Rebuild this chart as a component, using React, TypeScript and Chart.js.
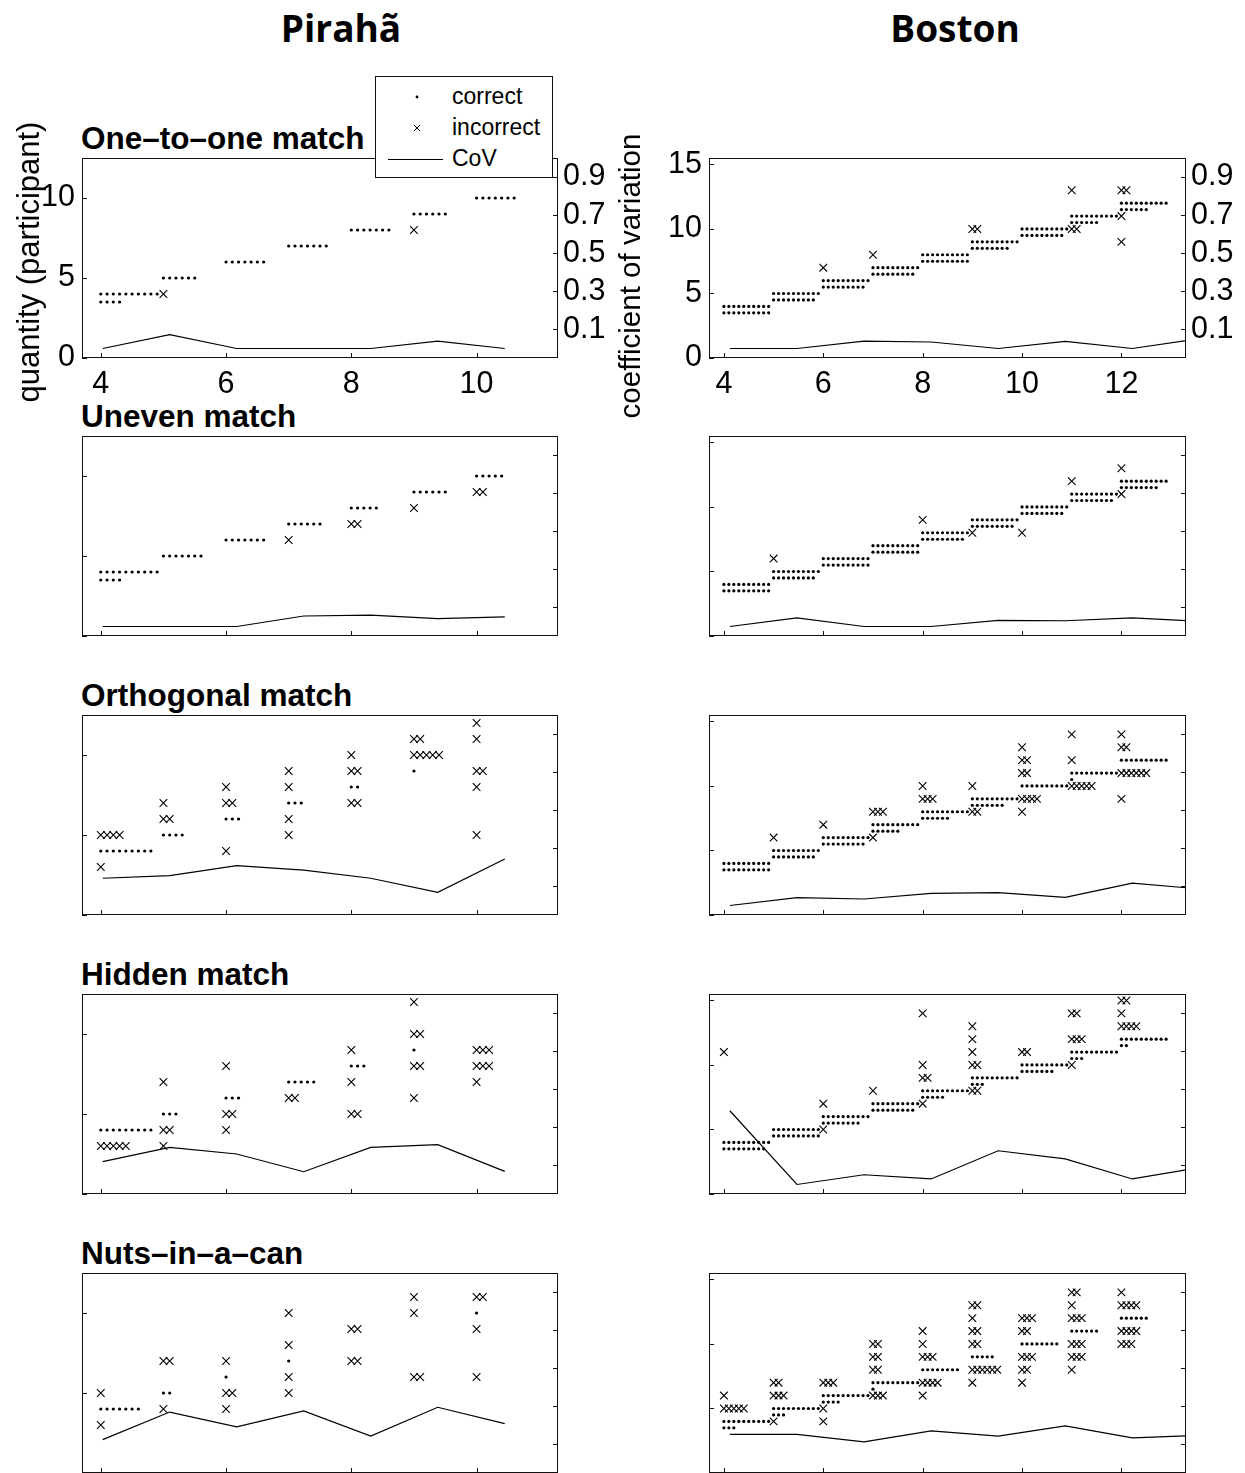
import React, { useEffect, useRef } from "react";
import { Chart, registerables } from "chart.js";

Chart.register(...registerables);

// Row = [target quantity, plotted response, first trial column, number of trials]
type Row = [number, number, number, number];

// ---------- axis ticks ----------
const PIRAHA_X_TICKS = [4, 6, 8, 10];
const BOSTON_X_TICKS = [4, 6, 8, 10, 12];
const PIRAHA_Y_TICKS = [0, 5, 10];
const BOSTON_Y_TICKS = [0, 5, 10, 15];
const COV_TICKS = [0.1, 0.3, 0.5, 0.7, 0.9];

// ---------- x positions of the CoV polyline vertices ----------
const PIRAHA_COV_X = [4.03, 5.1, 6.17, 7.24, 8.31, 9.38, 10.45];
const BOSTON_COV_X = [4.12, 5.47, 6.82, 8.17, 9.52, 10.87, 12.22, 13.57, 14.92];

// horizontal spacing between successive trials of one quantity
const TRIAL_STEP = 0.1;

// ---------- One-to-one match ----------
const PIRAHA_ONE_CORRECT: Row[] = [[4, 4, 0, 10], [4, 3.5, 0, 4], [5, 5, 0, 6], [6, 6, 0, 7], [7, 7, 0, 7], [8, 8, 0, 7], [9, 9, 0, 6], [10, 10, 0, 7]];
const PIRAHA_ONE_INCORRECT: Row[] = [[5, 4, 0, 1], [9, 8, 0, 1]];
const PIRAHA_ONE_COV = [0, 0.073, 0, 0, 0, 0.039, 0];

const BOSTON_ONE_CORRECT: Row[] = [[4, 4, 0, 10], [4, 3.5, 0, 10], [5, 5, 0, 10], [5, 4.5, 0, 9], [6, 6, 0, 10], [6, 5.5, 0, 9], [7, 7, 0, 10], [7, 6.5, 0, 9], [8, 8, 0, 10], [8, 7.5, 0, 10], [9, 9, 0, 10], [9, 8.5, 0, 8], [10, 10, 0, 10], [10, 9.5, 0, 9], [11, 11, 0, 10], [11, 10.5, 0, 6], [12, 12, 0, 10], [12, 11.5, 0, 6]];
const BOSTON_ONE_INCORRECT: Row[] = [[6, 7, 0, 1], [7, 8, 0, 1], [9, 10, 0, 2], [11, 13, 0, 1], [11, 10, 0, 2], [12, 13, 0, 2], [12, 11, 0, 1], [12, 9, 0, 1]];
const BOSTON_ONE_COV = [0, 0, 0.039, 0.034, 0, 0.037, 0, 0.051, 0.03];

// ---------- Uneven match ----------
const PIRAHA_UNEVEN_CORRECT: Row[] = [[4, 4, 0, 10], [4, 3.5, 0, 4], [5, 5, 0, 7], [6, 6, 0, 7], [7, 7, 0, 6], [8, 8, 0, 5], [9, 9, 0, 6], [10, 10, 0, 5]];
const PIRAHA_UNEVEN_INCORRECT: Row[] = [[7, 6, 0, 1], [8, 7, 0, 2], [9, 8, 0, 1], [10, 9, 0, 2]];
const PIRAHA_UNEVEN_COV = [0, 0, 0, 0.055, 0.06, 0.041, 0.05];

const BOSTON_UNEVEN_CORRECT: Row[] = [[4, 4, 0, 10], [4, 3.5, 0, 10], [5, 5, 0, 10], [5, 4.5, 0, 9], [6, 6, 0, 10], [6, 5.5, 0, 10], [7, 7, 0, 10], [7, 6.5, 0, 10], [8, 8, 0, 10], [8, 7.5, 0, 9], [9, 9, 0, 10], [9, 8.5, 0, 9], [10, 10, 0, 10], [10, 9.5, 0, 9], [11, 11, 0, 10], [11, 10.5, 0, 9], [12, 12, 0, 10], [12, 11.5, 0, 8]];
const BOSTON_UNEVEN_INCORRECT: Row[] = [[5, 6, 0, 1], [8, 9, 0, 1], [9, 8, 0, 1], [10, 8, 0, 1], [11, 12, 0, 1], [12, 13, 0, 1], [12, 11, 0, 1]];
const BOSTON_UNEVEN_COV = [0, 0.045, 0, 0, 0.032, 0.03, 0.045, 0.027, 0.03];

// ---------- Orthogonal match ----------
const PIRAHA_ORTHO_CORRECT: Row[] = [[4, 4, 0, 9], [5, 5, 0, 4], [6, 6, 0, 3], [7, 7, 0, 3], [8, 8, 0, 2], [9, 9, 0, 1]];
const PIRAHA_ORTHO_INCORRECT: Row[] = [[4, 5, 0, 4], [4, 3, 0, 1], [5, 7, 0, 1], [5, 6, 0, 2], [6, 8, 0, 1], [6, 7, 0, 2], [6, 4, 0, 1], [7, 9, 0, 1], [7, 8, 0, 1], [7, 6, 0, 1], [7, 5, 0, 1], [8, 10, 0, 1], [8, 9, 0, 2], [8, 7, 0, 2], [9, 11, 0, 2], [9, 10, 0, 5], [10, 12, 0, 1], [10, 11, 0, 1], [10, 9, 0, 2], [10, 8, 0, 1], [10, 5, 0, 1]];
const PIRAHA_ORTHO_COV = [0.143, 0.157, 0.209, 0.186, 0.143, 0.069, 0.244];

const BOSTON_ORTHO_CORRECT: Row[] = [[4, 4, 0, 10], [4, 3.5, 0, 10], [5, 5, 0, 10], [5, 4.5, 0, 9], [6, 6, 0, 10], [6, 5.5, 0, 9], [7, 7, 0, 10], [7, 6.5, 0, 6], [8, 8, 0, 10], [8, 7.5, 0, 6], [9, 9, 0, 10], [9, 8.5, 0, 7], [10, 10, 0, 10], [11, 11, 0, 10], [11, 10.5, 0, 1], [12, 12, 0, 10]];
const BOSTON_ORTHO_INCORRECT: Row[] = [[5, 6, 0, 1], [6, 7, 0, 1], [7, 8, 0, 3], [7, 6, 0, 1], [8, 10, 0, 1], [8, 9, 0, 3], [9, 10, 0, 1], [9, 8, 0, 2], [10, 13, 0, 1], [10, 12, 0, 2], [10, 11, 0, 2], [10, 9, 0, 4], [10, 8, 0, 1], [11, 14, 0, 1], [11, 12, 0, 1], [11, 10, 0, 5], [12, 14, 0, 1], [12, 13, 0, 2], [12, 11, 0, 6], [12, 9, 0, 1]];
const BOSTON_ORTHO_COV = [0, 0.041, 0.034, 0.064, 0.067, 0.043, 0.117, 0.087, 0.08];

// ---------- Hidden match ----------
const PIRAHA_HIDDEN_CORRECT: Row[] = [[4, 4, 0, 9], [5, 5, 0, 3], [6, 6, 0, 3], [7, 7, 0, 5], [8, 8, 0, 3], [9, 9, 0, 1]];
const PIRAHA_HIDDEN_INCORRECT: Row[] = [[4, 3, 0, 5], [5, 7, 0, 1], [5, 4, 0, 2], [5, 3, 0, 1], [6, 8, 0, 1], [6, 5, 0, 2], [6, 4, 0, 1], [7, 6, 0, 2], [8, 9, 0, 1], [8, 7, 0, 1], [8, 5, 0, 2], [9, 12, 0, 1], [9, 10, 0, 2], [9, 8, 0, 2], [9, 6, 0, 1], [10, 9, 0, 3], [10, 8, 0, 3], [10, 7, 0, 1]];
const PIRAHA_HIDDEN_COV = [0.12, 0.195, 0.16, 0.067, 0.195, 0.209, 0.069];

const BOSTON_HIDDEN_CORRECT: Row[] = [[4, 4, 0, 10], [4, 3.5, 0, 9], [5, 5, 0, 10], [5, 4.5, 0, 10], [6, 6, 0, 10], [6, 5.5, 0, 8], [7, 7, 0, 10], [7, 6.5, 0, 9], [8, 8, 0, 10], [8, 7.5, 0, 5], [9, 9, 0, 10], [9, 8.5, 0, 3], [10, 10, 0, 10], [10, 9.5, 0, 7], [11, 11, 0, 10], [11, 10.5, 0, 3], [12, 12, 0, 10], [12, 11.5, 0, 2]];
const BOSTON_HIDDEN_INCORRECT: Row[] = [[4, 11, 0, 1], [6, 7, 0, 1], [6, 5, 0, 1], [7, 8, 0, 1], [8, 14, 0, 1], [8, 10, 0, 1], [8, 9, 0, 2], [8, 7, 0, 1], [9, 13, 0, 1], [9, 12, 0, 1], [9, 11, 0, 1], [9, 10, 0, 2], [9, 8, 0, 2], [10, 11, 0, 2], [11, 14, 0, 2], [11, 12, 0, 3], [11, 10, 0, 1], [12, 15, 0, 2], [12, 14, 0, 1], [12, 13, 0, 4]];
const BOSTON_HIDDEN_COV = [0.387, 0, 0.051, 0.029, 0.177, 0.134, 0.029, 0.088, 0.06];

// ---------- Nuts-in-a-can ----------
const PIRAHA_NUTS_CORRECT: Row[] = [[4, 4, 0, 7], [5, 5, 0, 2], [6, 6, 0, 1], [7, 7, 0, 1], [10, 10, 0, 1]];
const PIRAHA_NUTS_INCORRECT: Row[] = [[4, 5, 0, 1], [4, 3, 0, 1], [5, 7, 0, 2], [5, 4, 0, 1], [6, 7, 0, 1], [6, 5, 0, 2], [6, 4, 0, 1], [7, 10, 0, 1], [7, 8, 0, 1], [7, 6, 0, 1], [7, 5, 0, 1], [8, 9, 0, 2], [8, 7, 0, 2], [9, 11, 0, 1], [9, 10, 0, 1], [9, 6, 0, 2], [10, 11, 0, 2], [10, 9, 0, 1], [10, 6, 0, 1]];
const PIRAHA_NUTS_COV = [0.125, 0.27, 0.192, 0.276, 0.144, 0.295, 0.209];

const BOSTON_NUTS_CORRECT: Row[] = [[4, 4, 0, 10], [4, 3.5, 0, 3], [5, 5, 0, 10], [5, 4.5, 0, 3], [6, 6, 0, 10], [6, 5.5, 0, 4], [7, 7, 0, 10], [7, 6.5, 0, 1], [8, 8, 0, 8], [9, 9, 0, 5], [10, 10, 0, 8], [11, 11, 0, 6], [12, 12, 0, 6]];
const BOSTON_NUTS_INCORRECT: Row[] = [[4, 6, 0, 1], [4, 5, 0, 5], [5, 7, 0, 2], [5, 6, 0, 3], [5, 4, 0, 1], [6, 7, 0, 3], [6, 5, 0, 1], [6, 4, 0, 1], [7, 10, 0, 2], [7, 9, 0, 2], [7, 8, 0, 2], [7, 6, 0, 3], [8, 11, 0, 1], [8, 10, 0, 1], [8, 9, 0, 3], [8, 7, 0, 4], [8, 6, 0, 1], [9, 13, 0, 2], [9, 12, 0, 1], [9, 11, 0, 2], [9, 10, 0, 2], [9, 8, 0, 6], [9, 7, 0, 1], [10, 12, 0, 3], [10, 11, 0, 2], [10, 9, 0, 3], [10, 8, 0, 2], [10, 7, 0, 1], [11, 14, 0, 2], [11, 13, 0, 1], [11, 12, 0, 3], [11, 10, 0, 3], [11, 9, 0, 3], [11, 8, 0, 1], [12, 14, 0, 1], [12, 13, 0, 4], [12, 11, 0, 4], [12, 10, 0, 3]];
const BOSTON_NUTS_COV = [0.153, 0.153, 0.113, 0.171, 0.144, 0.197, 0.134, 0.147, 0.14];

// ---------- text ----------
const GROUP_TITLES = ["Pirahã", "Boston"];
const TASK_TITLES = ["One–to–one match", "Uneven match", "Orthogonal match", "Hidden match", "Nuts–in–a–can"];
const LEGEND_LABELS = ["correct", "incorrect", "CoV"];
const Y_LABEL = "quantity (participant)";
const Y1_LABEL = "coefficient of variation";

// ---------- layout (not data) ----------
const FONT = '"Liberation Sans", Arial, Helvetica, sans-serif';
const ROW_TOPS = [158, 436, 715, 994, 1273];
const PANEL_H = 200;
const M_LEFT = 80;
const M_TOP = 10;
const M_BOTTOM = 50;

const COLUMNS = [
  { xMin: 3.7, xMax: 11.3, yMax: 12.5, xTicks: PIRAHA_X_TICKS, yTicks: PIRAHA_Y_TICKS, covX: PIRAHA_COV_X, left: 82, width: 476, mRight: 80 },
  { xMin: 3.7, xMax: 13.3, yMax: 15.5, xTicks: BOSTON_X_TICKS, yTicks: BOSTON_Y_TICKS, covX: BOSTON_COV_X, left: 709, width: 477, mRight: 58 },
];

const PANELS = [
  { row: 0, col: 0, correct: PIRAHA_ONE_CORRECT, incorrect: PIRAHA_ONE_INCORRECT, cov: PIRAHA_ONE_COV },
  { row: 0, col: 1, correct: BOSTON_ONE_CORRECT, incorrect: BOSTON_ONE_INCORRECT, cov: BOSTON_ONE_COV },
  { row: 1, col: 0, correct: PIRAHA_UNEVEN_CORRECT, incorrect: PIRAHA_UNEVEN_INCORRECT, cov: PIRAHA_UNEVEN_COV },
  { row: 1, col: 1, correct: BOSTON_UNEVEN_CORRECT, incorrect: BOSTON_UNEVEN_INCORRECT, cov: BOSTON_UNEVEN_COV },
  { row: 2, col: 0, correct: PIRAHA_ORTHO_CORRECT, incorrect: PIRAHA_ORTHO_INCORRECT, cov: PIRAHA_ORTHO_COV },
  { row: 2, col: 1, correct: BOSTON_ORTHO_CORRECT, incorrect: BOSTON_ORTHO_INCORRECT, cov: BOSTON_ORTHO_COV },
  { row: 3, col: 0, correct: PIRAHA_HIDDEN_CORRECT, incorrect: PIRAHA_HIDDEN_INCORRECT, cov: PIRAHA_HIDDEN_COV },
  { row: 3, col: 1, correct: BOSTON_HIDDEN_CORRECT, incorrect: BOSTON_HIDDEN_INCORRECT, cov: BOSTON_HIDDEN_COV },
  { row: 4, col: 0, correct: PIRAHA_NUTS_CORRECT, incorrect: PIRAHA_NUTS_INCORRECT, cov: PIRAHA_NUTS_COV },
  { row: 4, col: 1, correct: BOSTON_NUTS_CORRECT, incorrect: BOSTON_NUTS_INCORRECT, cov: BOSTON_NUTS_COV },
];

const expandRows = (rows: Row[]) =>
  rows.flatMap(([n, y, c, k]) => Array.from({ length: k }, (_, i) => ({ x: n + TRIAL_STEP * (c + i), y })));

const framePlugin = {
  id: "matlabFrame",
  afterDraw(chart: any) {
    const { ctx, chartArea, scales } = chart;
    const { left, right, top, bottom } = chartArea;
    const TL = 5;
    ctx.save();
    ctx.strokeStyle = "#111";
    ctx.lineWidth = 1;
    ctx.beginPath();
    for (const t of scales.x.ticks) {
      const px = Math.round(scales.x.getPixelForValue(t.value)) + 0.5;
      ctx.moveTo(px, bottom);
      ctx.lineTo(px, bottom - TL);
    }
    for (const t of scales.y.ticks) {
      const py = Math.round(scales.y.getPixelForValue(t.value)) + 0.5;
      ctx.moveTo(left, py);
      ctx.lineTo(left + TL, py);
    }
    for (const t of scales.y1.ticks) {
      const py = Math.round(scales.y1.getPixelForValue(t.value)) + 0.5;
      ctx.moveTo(right, py);
      ctx.lineTo(right - TL, py);
    }
    ctx.stroke();
    ctx.strokeRect(left + 0.5, top + 0.5, right - left - 1, bottom - top - 1);
    ctx.restore();
  },
};

const noPad = (s: any) => {
  s.paddingTop = 0;
  s.paddingBottom = 0;
  s.paddingLeft = 0;
  s.paddingRight = 0;
};

function Panel({ p }: { p: (typeof PANELS)[number] }) {
  const ref = useRef<HTMLCanvasElement>(null);
  const col = COLUMNS[p.col];
  const w = M_LEFT + col.width + col.mRight;
  const h = M_TOP + PANEL_H + M_BOTTOM;
  const showLabels = p.row === 0;

  useEffect(() => {
    const tickFont = { family: FONT, size: 30.5 };
    const chart = new Chart(ref.current as HTMLCanvasElement, {
      type: "scatter",
      data: {
        datasets: [
          {
            label: LEGEND_LABELS[0],
            data: expandRows(p.correct),
            pointStyle: "circle",
            pointRadius: 1.6,
            backgroundColor: "#000",
            borderWidth: 0,
            yAxisID: "y",
          },
          {
            label: LEGEND_LABELS[1],
            data: expandRows(p.incorrect),
            pointStyle: "crossRot",
            pointRadius: 5.4,
            borderColor: "#000",
            backgroundColor: "#000",
            borderWidth: 1.1,
            yAxisID: "y",
          },
          {
            label: LEGEND_LABELS[2],
            type: "line",
            data: col.covX.map((x, i) => ({ x, y: p.cov[i] })),
            borderColor: "#000",
            borderWidth: 1.2,
            pointRadius: 0,
            fill: false,
            tension: 0,
            showLine: true,
            yAxisID: "y1",
          } as any,
        ],
      },
      options: {
        animation: false,
        responsive: false,
        devicePixelRatio: 1,
        events: [],
        layout: { padding: { top: M_TOP, left: 0, right: 0, bottom: 0 } },
        plugins: { legend: { display: false }, tooltip: { enabled: false } },
        scales: {
          x: {
            type: "linear",
            min: col.xMin,
            max: col.xMax,
            grid: { display: false, drawTicks: false },
            border: { display: false },
            ticks: { display: showLabels, padding: 8, font: tickFont, color: "#000", maxRotation: 0, autoSkip: false, callback: (v: any) => String(v) },
            afterBuildTicks: (s: any) => { s.ticks = col.xTicks.map((v) => ({ value: v })); },
            afterFit: (s: any) => { s.height = M_BOTTOM; noPad(s); },
          },
          y: {
            type: "linear",
            position: "left",
            min: 0,
            max: col.yMax,
            grid: { display: false, drawTicks: false },
            border: { display: false },
            ticks: { display: showLabels, padding: 7, font: tickFont, color: "#000", autoSkip: false, callback: (v: any) => String(v) },
            afterBuildTicks: (s: any) => { s.ticks = col.yTicks.map((v) => ({ value: v })); },
            afterFit: (s: any) => { s.width = M_LEFT; noPad(s); },
          },
          y1: {
            type: "linear",
            position: "right",
            min: -0.05,
            max: 1.0,
            grid: { display: false, drawTicks: false },
            border: { display: false },
            ticks: { display: showLabels, padding: 5, font: tickFont, color: "#000", autoSkip: false, callback: (v: any) => String(v) },
            afterBuildTicks: (s: any) => { s.ticks = COV_TICKS.map((v) => ({ value: v })); },
            afterFit: (s: any) => { s.width = col.mRight; noPad(s); },
          },
        },
      } as any,
      plugins: [framePlugin],
    });
    return () => chart.destroy();
  }, []);

  return (
    <canvas
      ref={ref}
      width={w}
      height={h}
      style={{ position: "absolute", left: col.left - M_LEFT, top: ROW_TOPS[p.row] - M_TOP, width: w, height: h }}
    />
  );
}

const abs = (style: React.CSSProperties): React.CSSProperties => ({ position: "absolute", whiteSpace: "nowrap", ...style });

export default function App() {
  return (
    <div style={{ position: "absolute", left: 0, top: 0, width: 1245, height: 1473, overflow: "hidden", background: "#fff", color: "#000" }}>
      {/* group titles */}
      <div style={abs({ left: 341 - 150, top: 6, width: 300, textAlign: "center", font: 'bold 37px "Open Sans", "Noto Sans", sans-serif', lineHeight: "44px" })}>{GROUP_TITLES[0]}</div>
      <div style={abs({ left: 955 - 150, top: 6, width: 300, textAlign: "center", font: 'bold 37px "Open Sans", "Noto Sans", sans-serif', lineHeight: "44px" })}>{GROUP_TITLES[1]}</div>

      {/* task titles */}
      {TASK_TITLES.map((t, i) => (
        <div key={t} style={abs({ left: 81, top: ROW_TOPS[i] - 35, font: `bold 31.5px ${FONT}`, lineHeight: "31.5px" })}>{t}</div>
      ))}

      {PANELS.map((p, i) => (
        <Panel key={i} p={p} />
      ))}

      {/* axis titles */}
      <div style={abs({ left: 29 - 200, top: 262 - 17, width: 400, height: 34, textAlign: "center", font: `31px ${FONT}`, lineHeight: "34px", transform: "rotate(-90deg)" })}>{Y_LABEL}</div>
      <div style={abs({ left: 630 - 200, top: 276 - 17, width: 400, height: 34, textAlign: "center", font: `29.5px ${FONT}`, lineHeight: "34px", transform: "rotate(-90deg)" })}>{Y1_LABEL}</div>

      {/* legend */}
      <div style={abs({ left: 375, top: 76, width: 178, height: 102, boxSizing: "border-box", border: "1px solid #111", background: "#fff" })}>
        <svg width={176} height={100} style={{ position: "absolute", left: 0, top: 0 }}>
          <circle cx={41} cy={20} r={1.4} fill="#000" />
          <path d="M38 48 L44 54 M44 48 L38 54" stroke="#000" strokeWidth={1} />
          <line x1={12} y1={82.5} x2={67} y2={82.5} stroke="#000" strokeWidth={1.2} />
        </svg>
        {LEGEND_LABELS.map((t, i) => (
          <div key={t} style={abs({ left: 76, top: 8 + i * 31, font: `23px ${FONT}`, lineHeight: "23px" })}>{t}</div>
        ))}
      </div>
    </div>
  );
}
